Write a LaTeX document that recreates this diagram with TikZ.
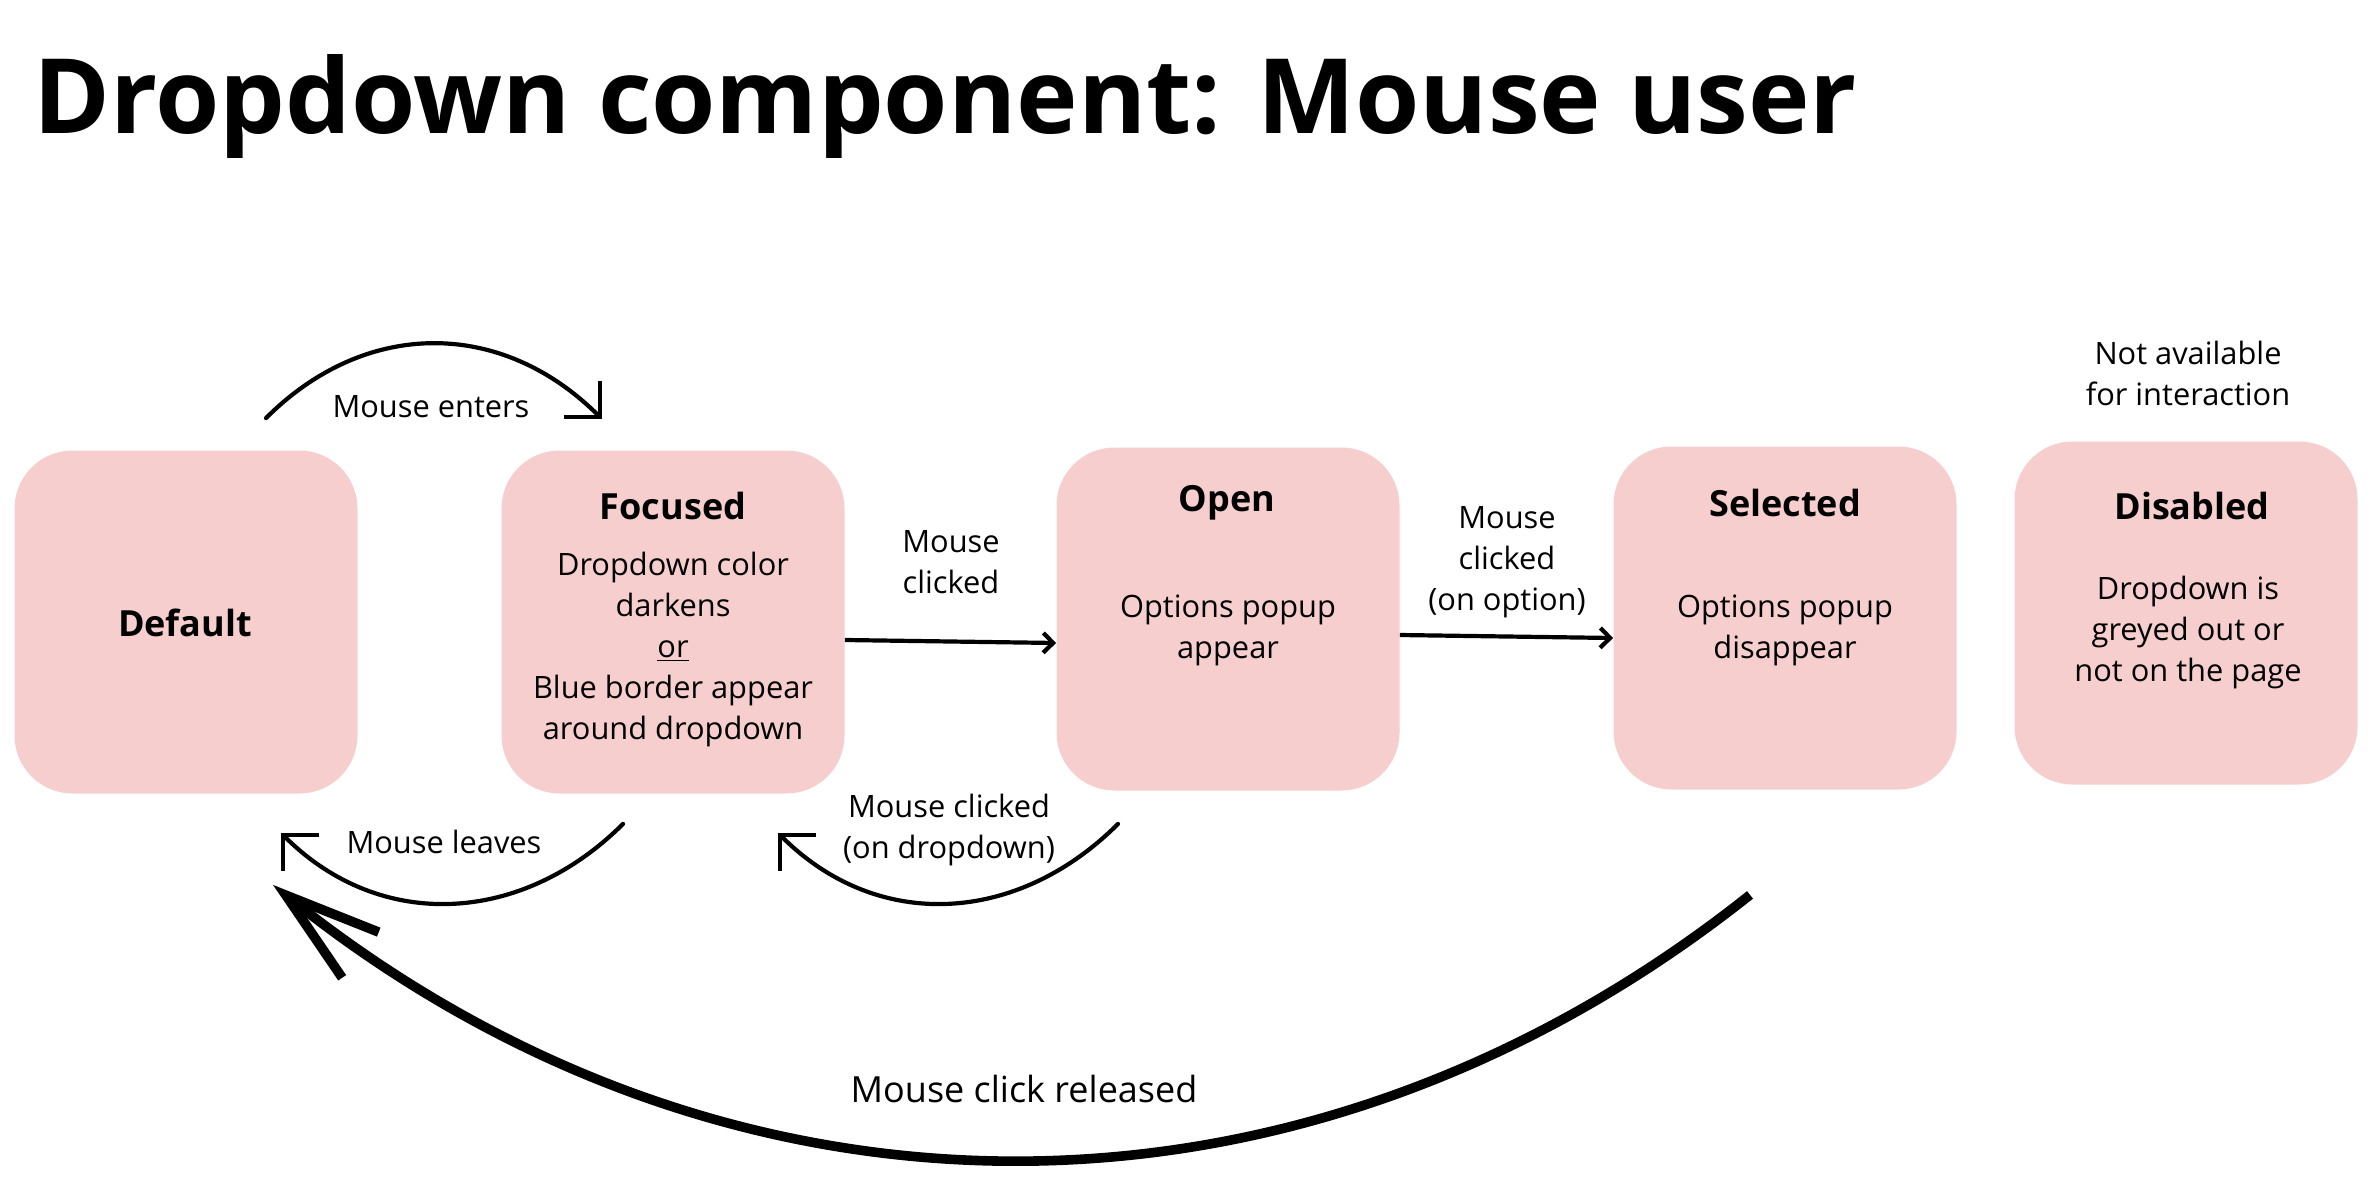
\documentclass[tikz,border=0pt]{standalone}
\usepackage{fontspec}
\setmainfont{Open Sans}
\usetikzlibrary{arrows.meta,positioning}
\definecolor{statepink}{RGB}{247,206,206}
\tikzset{
  state/.style     = {shape=rectangle, rounded corners=29pt,
                      fill=statepink, inner sep=0pt,
                      minimum width=171.5pt, minimum height=171.5pt},
  statetitle/.style = {font=\fontsize{18}{22}\selectfont\bfseries, inner sep=0pt},
  statetext/.style  = {align=center, inner sep=0pt,
                       font=\fontsize{15.4}{20.5}\selectfont},
  bigtext/.style    = {statetext, font=\fontsize{18}{22}\selectfont},
  heading/.style    = {font=\fontsize{52}{60}\selectfont\bfseries, inner sep=0pt},
  loopline/.style   = {line width=2.1pt, line cap=round,
                       -{Straight Barb[angle=90:18pt]}},
  stepline/.style   = {line width=2.1pt, -{Straight Barb[angle=90:7pt]}},
  release/.style    = {line width=4.8pt,
                       -{Straight Barb[angle=34:50pt, line cap=butt, line join=miter]}}
}
\begin{document}
\begin{tikzpicture}[x=0.5pt,y=-0.5pt]
  \useasboundingbox (0,0) rectangle (2370,1198);

  \node[heading, anchor=base west] (title) at (33,134)
    {Dropdown component: Mouse user};

  % states
  \node[state] (default)  at (186,622)  {};
  \node[state] (focused)  at (673,622)  {};
  \node[state] (open)     at (1228,619) {};
  \node[state] (selected) at (1785,618) {};
  \node[state] (disabled) at (2186,613) {};

  \node[statetitle] (default-title)  at (185,623)  {Default};
  \node[statetitle] (focused-title)  at (673,506)  {Focused};
  \node[statetitle] (open-title)     at (1227,503) {Open};
  \node[statetitle] (selected-title) at (1785,503) {Selected};
  \node[statetitle] (disabled-title) at (2192,506) {Disabled};

  \node[statetext] (focused-text)  at (673,649)
    {Dropdown color\\darkens\\\underline{or}\\Blue border appear\\around dropdown};
  \node[statetext] (open-text)     at (1228,630) {Options popup\\appear};
  \node[statetext] (selected-text) at (1785,630) {Options popup\\disappear};
  \node[statetext] (disabled-text) at (2188,632)
    {Dropdown is\\greyed out or\\not on the page};
  \node[statetext] (disabled-note) at (2188,373)
    {Not available\\for interaction};

  % labels
  \node[statetext] (enters)   at (431,407)  {Mouse enters};
  \node[statetext] (clicked)  at (951,562)  {Mouse\\clicked};
  \node[statetext] (option)   at (1507,562) {Mouse\\clicked\\(on option)};
  \node[statetext] (leaves)   at (444,842)  {Mouse leaves};
  \node[statetext] (dropdown) at (949,830)  {Mouse clicked\\(on dropdown)};
  \node[bigtext]   (released) at (1024,1089) {Mouse click released};

  % transitions
  \draw[stepline] ([yshift=-9pt]focused.east) -- ([yshift=-12pt]open.west);
  \draw[stepline] ([yshift=-8pt]open.east) -- ([yshift=-10pt]selected.west);
  \draw[loopline]
    ([shift={(80,-32)}]default.north)
      .. controls +(100,-100) and +(-100,-100) ..
    ([shift={(-71,-31)}]focused.north);
  \draw[loopline]
    ([shift={(-50,30)}]focused.south)
      .. controls +(-100,100) and +(100,100) ..
    ([shift={(95,39)}]default.south);
  \draw[loopline]
    ([shift={(-110,33)}]open.south)
      .. controls +(-100,100) and +(100,100) ..
    ([shift={(105,39)}]focused.south);
  \draw[release]
    ([shift={(-35,105)}]selected.south)
      .. controls +(-449,357) and +(452,362) ..
    ([shift={(87,91)}]default.south);
\end{tikzpicture}
\end{document}
